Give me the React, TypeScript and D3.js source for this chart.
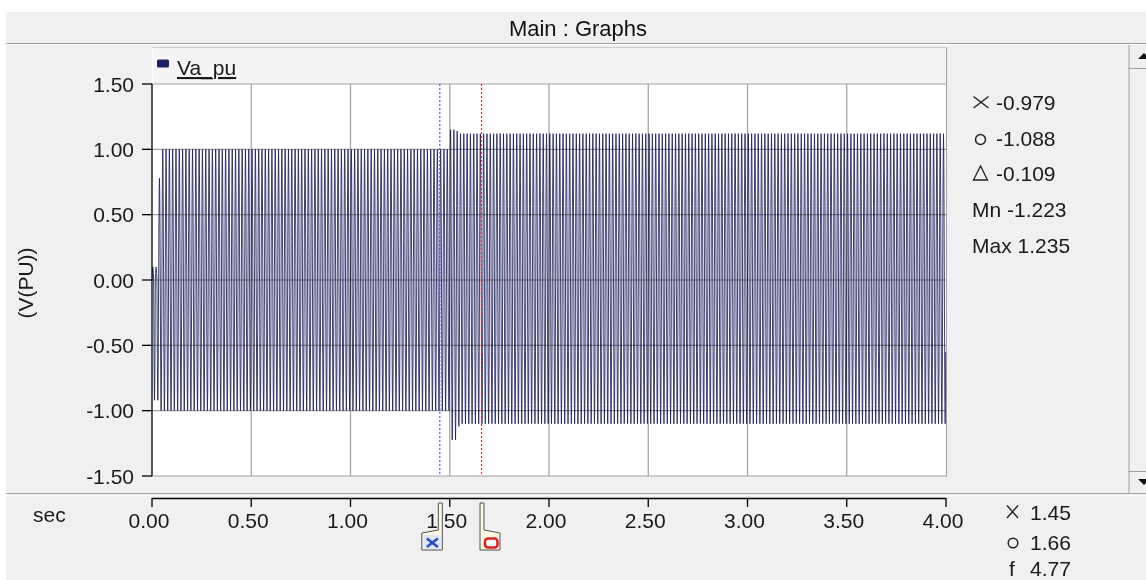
import React from 'react';
import * as d3 from 'd3';

// ---------- data ----------
const xTicks = [0, 0.5, 1.0, 1.5, 2.0, 2.5, 3.0, 3.5, 4.0];
const yTicks = [1.5, 1.0, 0.5, 0.0, -0.5, -1.0, -1.5];
const xDomain = [0, 4];
const yDomain = [-1.5, 1.5];

const signalName = 'Va_pu';
const signalFreqHz = 60;
// one normalised cycle of the plotted waveform (12 samples per cycle)
const cycleShape = [0, 0.5, 0.866, 1, 0.866, 0.5, 0, -0.5, -0.866, -1, -0.866, -0.5];
// peak values per segment (start time of segment in s)
const segmentStart = [0, 0.0167, 0.0333, 0.05, 1.5, 1.5167, 1.5333, 1.55];
const segmentPosPeak = [0.1, 0.45, 0.78, 1.0, 1.15, 1.235, 1.14, 1.12];
const segmentNegPeak = [-0.92, -1.0, -1.0, -1.0, -1.223, -1.14, -1.12, -1.1];
const simEnd = 4.0;

const cursorX = 1.45;
const cursorO = 1.66;
const readX = '-0.979';
const readO = '-1.088';
const readDelta = '-0.109';
const readMin = '-1.223';
const readMax = '1.235';
const timeX = '1.45';
const timeO = '1.66';
const freqF = '4.77';

// ---------- layout ----------
const W = 1146;
const H = 580;
const PL = 152, PR = 946, PT = 84, PB = 476;
const FONT = "'Liberation Sans', Arial, sans-serif";

function buildWave() {
  const pts: [number, number][] = [];
  const n = cycleShape.length;
  const period = 1 / signalFreqHz;
  for (let k = 0; k * period < simEnd - 1e-9; k++) {
    const t0 = k * period;
    let seg = 0;
    for (let i = 0; i < segmentStart.length; i++) if (segmentStart[i] <= t0 + 1e-6) seg = i;
    const pos = segmentPosPeak[seg];
    const neg = segmentNegPeak[seg];
    for (let j = 0; j < n; j++) {
      const s = cycleShape[j];
      pts.push([t0 + (j * period) / n, s >= 0 ? s * pos : -s * neg]);
    }
  }
  return pts;
}

export default function App() {
  const x = d3.scaleLinear().domain(xDomain).range([PL, PR]);
  const y = d3.scaleLinear().domain(yDomain).range([PB, PT]);
  const wave = buildWave();
  const line = d3.line<[number, number]>().x(d => x(d[0])).y(d => y(d[1]));
  const d = line(wave) || '';

  const cx = x(cursorX);
  const co = x(cursorO);
  const txt = { fontFamily: FONT, fontSize: 21, fill: '#1a1a1a' } as const;

  return (
    <svg width={W} height={H} style={{ position: 'absolute', left: 0, top: 0 }}>
      <defs>
        <clipPath id="plotclip">
          <rect x={PL} y={PT} width={PR - PL} height={PB - PT} />
        </clipPath>
      </defs>
      <rect x={0} y={0} width={W} height={H} fill="#ffffff" />
      <rect x={6} y={12} width={W - 6} height={H - 12} fill="#f0f0f0" />

      {/* title bar */}
      <text x={578} y={36} textAnchor="middle" style={{ ...txt, fontSize: 22, fill: '#111' }}>Main : Graphs</text>
      <line x1={6} x2={W} y1={43.5} y2={43.5} stroke="#a0a0a0" />
      <line x1={6} x2={W} y1={44.5} y2={44.5} stroke="#ffffff" />

      {/* scrollbar */}
      <line x1={1129} x2={1129} y1={45} y2={493} stroke="#a0a0a0" />
      <line x1={1129} x2={W} y1={68.5} y2={68.5} stroke="#a0a0a0" />
      <line x1={1129} x2={W} y1={471.5} y2={471.5} stroke="#a0a0a0" />
      <path d="M1138,59 L1150,59 L1144,53 Z" fill="#111" />
      <path d="M1138,479 L1150,479 L1144,485 Z" fill="#111" />

      {/* legend box */}
      <rect x={PL} y={47.5} width={PR - PL} height={PT - 47.5} fill="#f5f5f5" stroke="none" />
      <line x1={PL} x2={PR} y1={47.5} y2={47.5} stroke="#d0d0d0" />
      <line x1={PL + 0.5} x2={PL + 0.5} y1={47.5} y2={PT} stroke="#ffffff" />
      <line x1={PR + 0.5} x2={PR + 0.5} y1={47.5} y2={PT} stroke="#a0a0a0" />
      <rect x={157} y={59.5} width={12} height={8} rx={1.5} fill="#1c2162" />
      <text x={177} y={75} style={{ ...txt, textDecoration: 'underline' }}>{signalName}</text>

      {/* plot area */}
      <rect x={PL} y={PT} width={PR - PL} height={PB - PT} fill="#ffffff" />
      <g clipPath="url(#plotclip)">
        <path d={d} fill="none" stroke="#1b1f5c" strokeWidth={0.85} />
      </g>
      {/* grid on top (multiplied) */}
      <g style={{ mixBlendMode: 'multiply' }}>
        {xTicks.slice(1, -1).map(t => (
          <line key={'gx' + t} x1={x(t)} x2={x(t)} y1={PT} y2={PB} stroke="#a0a0a0" strokeWidth={1.2} />
        ))}
        {yTicks.slice(1, -1).map(t => (
          <line key={'gy' + t} x1={PL} x2={PR} y1={y(t)} y2={y(t)} stroke="#a0a0a0" strokeWidth={1.2} />
        ))}
      </g>
      {/* border */}
      <line x1={PL} x2={PR + 1} y1={PT} y2={PT} stroke="#a0a0a0" />
      <line x1={PR + 0.5} x2={PR + 0.5} y1={PT} y2={PB} stroke="#a0a0a0" />
      <line x1={PL} x2={PR + 1} y1={PB} y2={PB} stroke="#a0a0a0" />

      {/* cursors */}
      <line x1={cx} x2={cx} y1={PT} y2={PB} stroke="#3f55d0" strokeDasharray="2,2" strokeWidth={1.1} />
      <line x1={co} x2={co} y1={PT} y2={PB} stroke="#e03030" strokeDasharray="2,2" strokeWidth={1.1} />

      {/* y axis */}
      <line x1={PL} x2={PL} y1={PT} y2={PB} stroke="#000" strokeWidth={1.3} />
      {yTicks.map(t => (
        <g key={'yt' + t}>
          <line x1={PL - 10} x2={PL} y1={y(t)} y2={y(t)} stroke="#000" strokeWidth={1.3} />
          <text x={134} y={y(t) + 7.5} textAnchor="end" style={txt}>{t.toFixed(2)}</text>
        </g>
      ))}
      <text transform="translate(33,283) rotate(-90)" textAnchor="middle" style={txt}>(V(PU))</text>

      {/* right readouts */}
      <path d="M973.5,96.5 L988.5,108 M988.5,96.5 L973.5,108" stroke="#222" strokeWidth={1.4} fill="none" />
      <text x={996} y={110} style={txt}>{readX}</text>
      <circle cx={980.5} cy={139.5} r={5} stroke="#222" strokeWidth={1.5} fill="none" />
      <text x={996} y={146} style={txt}>{readO}</text>
      <path d="M980.5,166 L973.5,180 L987.5,180 Z" stroke="#222" strokeWidth={1.3} fill="none" />
      <text x={996} y={181} style={txt}>{readDelta}</text>
      <text x={972} y={217} style={txt}>{'Mn ' + readMin}</text>
      <text x={972} y={253} style={txt}>{'Max ' + readMax}</text>

      {/* bottom separator */}
      <line x1={6} x2={W} y1={493.5} y2={493.5} stroke="#a0a0a0" />
      <line x1={6} x2={W} y1={495} y2={495} stroke="#ffffff" />

      {/* x axis */}
      <line x1={PL} x2={PR} y1={498.5} y2={498.5} stroke="#000" strokeWidth={1.3} />
      {xTicks.map(t => (
        <g key={'xt' + t}>
          <line x1={x(t)} x2={x(t)} y1={498} y2={507} stroke="#000" strokeWidth={1.3} />
          <text x={x(t) - 3} y={527.5} textAnchor="middle" style={txt}>{t.toFixed(2)}</text>
        </g>
      ))}
      <text x={33} y={522} style={txt}>sec</text>

      {/* cursor handles */}
      <path d={`M${cx - 1.5},503 L${cx + 2.5},503 L${cx + 2.5},550 L${cx - 18},550 L${cx - 18},533 L${cx - 1.5},530 Z`} fill="#fbf7e0" stroke="#505050" />
      <rect x={cx - 16.5} y={535} width={18} height={14} fill="#dfe7f6" />
      <path d={`M${cx - 13},538.5 L${cx - 2},547 M${cx - 2},538.5 L${cx - 13},547`} stroke="#2a4fc0" strokeWidth={2.6} />
      <path d={`M${co - 1.5},503 L${co + 2.5},503 L${co + 2.5},530 L${co + 18.5},533 L${co + 18.5},550 L${co - 1.5},550 Z`} fill="#fbf7e0" stroke="#505050" />
      <rect x={co + 3.5} y={538.5} width={12.5} height={9} rx={3} fill="#fff" stroke="#e02020" strokeWidth={2.6} />

      {/* bottom-right readouts */}
      <path d="M1007,505.5 L1018,518 M1018,505.5 L1007,518" stroke="#222" strokeWidth={1.4} fill="none" />
      <text x={1030} y={520} style={txt}>{timeX}</text>
      <circle cx={1013} cy={543} r={4.8} stroke="#222" strokeWidth={1.5} fill="none" />
      <text x={1030} y={550} style={txt}>{timeO}</text>
      <text x={1009} y={576} style={txt}>f</text>
      <text x={1030} y={576} style={txt}>{freqF}</text>
    </svg>
  );
}
